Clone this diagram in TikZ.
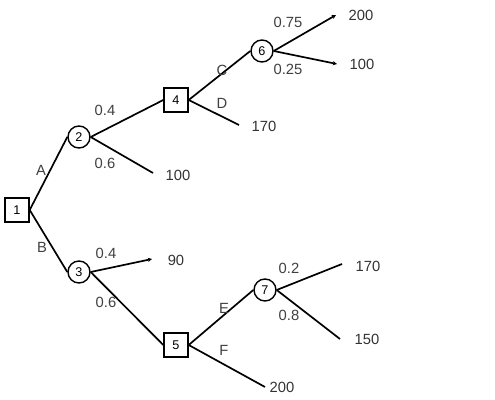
\documentclass[tikz,border=0pt]{standalone}
\usepackage{fontspec}
\setmainfont{Liberation Sans}
\usetikzlibrary{arrows.meta,positioning}
\tikzstyle{decision}=[rectangle,draw,line width=1pt,minimum size=0.6cm,inner sep=0pt,font=\small]
\tikzstyle{chance}=[circle,draw,line width=1pt,minimum size=0.55cm,inner sep=0pt,font=\small]
\tikzstyle{branch} = [draw,line width=1.2pt]
\tikzstyle{tipbranch} = [draw,line width=1.2pt,-{Stealth[length=3pt,width=3pt]}]
\tikzstyle{weight} = [font=\fontsize{10.5}{12}\selectfont,text=black!75]
\tikzstyle{payoff} = [font=\fontsize{10.5}{12}\selectfont,text=black!80]

\begin{document}
\begin{tikzpicture}[x=0.025cm,y=-0.025cm]

  \useasboundingbox (0,0) rectangle (495,400);

   \foreach \x/\y/\name/\label in {17/210/n1/1, 176/100/n4/4, 176/345/n5/5}
          \node[decision] (\name) at (\x,\y) {\label};

   \foreach \x/\y/\name/\label in {79/137/n2/2, 79/272/n3/3, 262/51/n6/6, 265/290/n7/7}
          \node[chance] (\name) at (\x,\y) {\label};

   % end points and payoffs
   \foreach \x/\y/\name/\lx/\ly/\label in {153/173/e2/178/175/100, 239/125/e4/264/126/170, 265/387/e5/282/387/200, 342/264/e7a/368/266/170, 340/339/e7b/367/339/150}
          {\coordinate (\name) at (\x,\y);
           \node[payoff] (p\name) at (\lx,\ly) {\label};}

   \foreach \x/\y/\name/\lx/\ly/\label in {336/15/e6a/361/15/200, 337/64/e6b/362/64/100, 152/259/e3/176/260/90}
          {\coordinate (\name) at (\x,\y);
           \node[payoff] (p\name) at (\lx,\ly) {\label};}

  \foreach \source/ \dest in {n1/n2, n1/n3, n2/n4, n4/n6, n3/n5, n5/n7}
         \path[branch] (\source.east) -- (\dest.west);

  \foreach \source/ \dest in {n2/e2, n4/e4, n5/e5, n7/e7a, n7/e7b}
         \path[branch] (\source.east) -- (\dest);

  \foreach \source/ \dest in {n6/e6a, n6/e6b, n3/e3}
         \path[tipbranch] (\source.east) -- (\dest);

   % branch labels
   \foreach \x/\y/\name/\label in {41/170/wA/A, 42/247/wB/B, 105/110/w24/0.4, 105/163/w2e/0.6, 222/70/wC/C, 222/103/wD/D, 288/22/w6a/0.75, 288/69/w6b/0.25, 106/253/w3e/0.4, 106/302/w35/0.6, 224/308/wE/E, 224/350/wF/F, 289/268/w7a/0.2, 289/315/w7b/0.8}
          \node[weight] (\name) at (\x,\y) {\label};

\end{tikzpicture}
\end{document}
